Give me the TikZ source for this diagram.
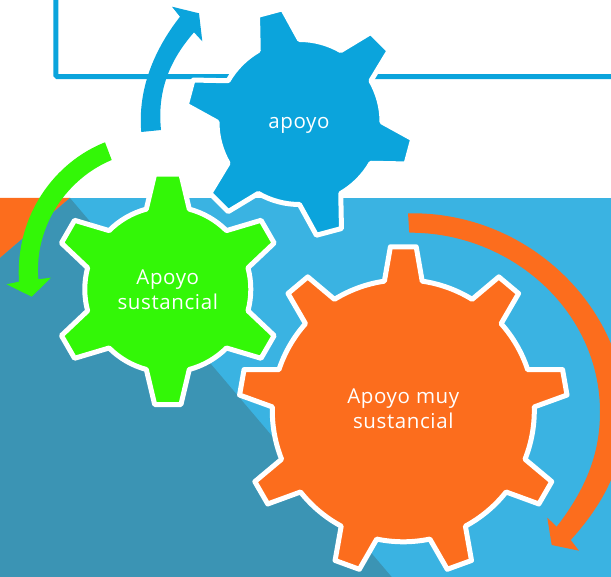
\documentclass[tikz,border=0pt]{standalone}
\usepackage{fontspec}
\newfontfamily\labfont[LetterSpace=3.0]{Open Sans}
\definecolor{panelblue}{HTML}{3AB3E2}
\definecolor{darkteal}{HTML}{3B94B4}
\definecolor{gearblue}{HTML}{0BA4DC}
\definecolor{gearorange}{HTML}{FC6D1D}
\definecolor{geargreen}{HTML}{33F707}
\tikzset{
  gearstyle/.style={draw=white,line width=5pt,line join=round},
  lab/.style={text=white,align=center,inner sep=0pt,font=\labfont\fontsize{20.5}{25}\selectfont},
}
% #1 colour, #2 cx, #3 cy, #4 teeth, #5 rotation, #6 root radius, #7 tip radius, #8 base half angle, #9 tip half angle
\newcommand\cogwheel[9]{%
  \begin{scope}[shift={(#2,#3)},x=1pt,y=1pt]
    \pgfmathsetmacro\stepang{360/#4}
    \draw[gearstyle,fill=#1] ({#5-#8}:#6)
      \foreach \k [evaluate=\k as \a using {#5+\k*\stepang}] in {0,...,\numexpr#4-1\relax} {
        -- ({\a-#9}:#7) -- ({\a+#9}:#7) -- ({\a+#8}:#6)
        arc[start angle={\a+#8},end angle={\a+\stepang-#8},radius=#6]
      } -- cycle;
  \end{scope}}
\begin{document}
\begin{tikzpicture}[x=1pt,y=-1pt]
\useasboundingbox (0,0) rectangle (611,577);
% background
\fill[panelblue] (0,198) rectangle (611,577);
\fill[gearorange] (0,198) -- (70,198) -- (0,258) -- cycle;
\fill[darkteal] (70,198) -- (391.7,577) -- (0,577) -- (0,258) -- cycle;
% frame
\draw[gearblue,line width=5pt,rounded corners=1.5pt] (55.8,-5) -- (55.8,76.6) -- (620,76.6);
% circular arrows
\fill[gearblue] (141.3,132) .. controls (138,95) and (150,55) .. (180,16.7) -- (172,6.7) -- (199,13.3) -- (202.3,41.3) -- (194,32.3) .. controls (170,60) and (157,90) .. (161,130) -- cycle;
\fill[geargreen] (105,142.3) .. controls (55,162) and (15,215) .. (19,281.7) -- (6.7,284.3) -- (31.7,296.7) -- (51,277.7) -- (38.3,279.3) .. controls (34,225) and (68,178) .. (111.7,160) -- cycle;
\fill[gearorange] (408,213.3) .. controls (530,211) and (625,310) .. (625,412) .. controls (625,460) and (607,500) .. (570.7,540) -- (579,550.7) -- (551.7,545) -- (547.3,517.7) -- (556.7,526.7) .. controls (585,490) and (600,455) .. (600,412) .. controls (600,310) and (510,232) .. (409.3,232.7) -- cycle;
% gears
\cogwheel{gearblue}{299.5}{122}{6}{45}{82.5}{114.5}{15}{6.5}
\cogwheel{geargreen}{167.8}{289.3}{6}{90}{83}{116}{15}{6.5}
\cogwheel{gearorange}{403.3}{410.8}{9}{90}{131}{164.5}{8.3}{4.5}
% labels
\node[lab] (apoyo) at (299,125) {apoyo};
\node[lab] (sust) at (167.8,289.5) {Apoyo\\sustancial};
\node[lab] (muy) at (403.3,409) {Apoyo muy\\sustancial};
\end{tikzpicture}
\end{document}
